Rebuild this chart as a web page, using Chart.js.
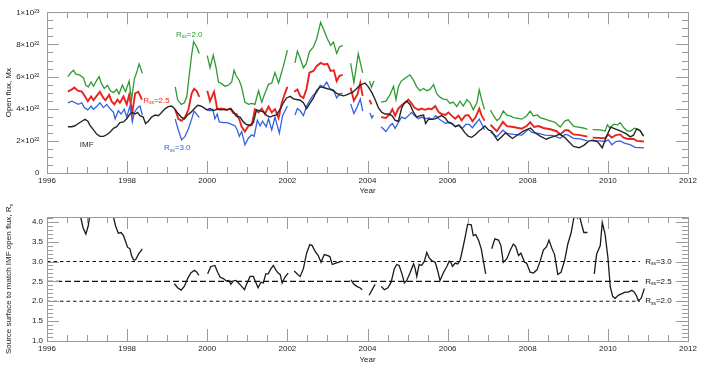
<!DOCTYPE html>
<html>
<head>
<meta charset="utf-8">
<script src="https://cdn.jsdelivr.net/npm/chart.js@4.4.1/dist/chart.umd.min.js"></script>
<style>
  html, body { margin: 0; padding: 0; background: #fff; }
  #wrap { position: relative; width: 708px; height: 368px; }
  canvas { position: absolute; left: 0; }
  #fluxChart { top: 0; }
  #rssChart { top: 200px; }
</style>
</head>
<body>
<div id="wrap">
  <canvas id="fluxChart" width="708" height="200"></canvas>
  <canvas id="rssChart" width="708" height="168"></canvas>
</div>
<script>
// open flux in units of 1e22 Mx, [year, value]; null = data gap
const imfFlux = [
  [1996.52,2.88],[1996.62,2.88],[1996.70,2.94],[1996.78,3.08],[1996.87,3.22],[1996.95,3.34],[1997.02,3.22],
  [1997.07,2.98],[1997.16,2.68],[1997.24,2.42],[1997.32,2.28],[1997.41,2.28],[1997.49,2.38],[1997.57,2.54],
  [1997.66,2.78],[1997.74,2.88],[1997.82,3.14],[1997.91,3.18],[1997.99,3.37],[1998.07,3.67],[1998.13,3.77],
  [1998.20,3.67],[1998.26,3.77],[1998.32,3.57],[1998.40,3.48],[1998.46,3.08],[1998.53,3.22],[1998.61,3.48],
  [1998.70,3.61],[1998.78,3.57],[1998.86,3.77],[1998.95,4.01],[1999.03,4.13],[1999.11,4.17],[1999.18,4.01],
  [1999.26,3.73],[1999.35,3.48],[1999.43,3.37],[1999.51,3.61],[1999.59,3.77],[1999.68,4.01],[1999.76,4.21],
  [1999.84,4.17],[1999.92,4.05],[1999.99,3.93],[2000.07,4.01],[2000.15,3.87],[2000.24,3.97],[2000.34,3.93],
  [2000.42,3.97],[2000.50,3.93],[2000.59,4.01],[2000.65,3.81],[2000.73,3.53],[2000.82,3.48],[2000.90,3.18],
  [2000.98,3.02],[2001.07,2.98],[2001.15,3.14],[2001.23,3.93],[2001.32,3.87],[2001.40,3.81],[2001.49,3.57],
  [2001.57,3.48],[2001.65,3.57],[2001.73,3.61],[2001.82,3.97],[2001.90,4.37],[2001.98,4.67],[2002.07,4.77],
  [2002.15,4.61],[2002.23,4.57],[2002.32,4.53],[2002.40,4.37],[2002.48,4.01],[2002.57,4.37],[2002.65,4.67],
  [2002.73,5.12],[2002.82,5.36],[2002.90,5.32],[2002.98,5.26],[2003.06,5.20],[2003.15,5.12],[2003.23,4.96],
  [2003.31,4.86],[2003.40,4.80],[2003.48,4.86],[2003.56,4.96],[2003.65,5.06],[2003.73,5.26],[2003.81,5.46],
  [2003.90,5.56],[2003.94,5.60],[2004.02,5.36],[2004.11,5.00],[2004.19,4.57],[2004.27,4.07],[2004.36,3.77],
  [2004.44,3.67],[2004.52,3.67],[2004.61,3.57],[2004.69,3.28],[2004.77,3.22],[2004.85,4.01],[2004.92,4.37],
  [2004.98,4.47],[2005.06,4.27],[2005.15,3.77],[2005.23,3.48],[2005.31,3.57],[2005.40,3.61],[2005.45,3.08],
  [2005.52,3.34],[2005.60,3.34],[2005.69,3.37],[2005.77,3.48],[2005.85,3.57],[2005.94,3.42],[2006.02,3.14],
  [2006.10,3.08],[2006.19,2.88],[2006.27,2.98],[2006.35,2.78],[2006.44,2.48],[2006.52,2.28],[2006.60,2.22],
  [2006.69,2.38],[2006.77,2.58],[2006.85,2.74],[2006.93,2.92],[2007.02,2.68],[2007.10,2.60],[2007.18,2.28],
  [2007.25,2.02],[2007.35,2.26],[2007.45,2.50],[2007.52,2.34],[2007.62,2.15],[2007.75,2.38],[2007.90,2.62],
  [2008.07,2.80],[2008.18,2.50],[2008.31,2.30],[2008.46,2.10],[2008.56,2.20],[2008.68,2.30],[2008.80,2.42],
  [2008.92,2.22],[2009.02,1.96],[2009.14,1.65],[2009.28,1.57],[2009.40,1.72],[2009.52,1.98],[2009.62,2.04],
  [2009.74,1.96],[2009.86,1.57],[2009.97,2.30],[2010.07,2.85],[2010.18,2.75],[2010.32,2.60],[2010.45,2.45],
  [2010.56,2.25],[2010.64,2.35],[2010.72,2.75],[2010.80,2.66],[2010.89,2.30]
];

const rss20Flux = [
  [1996.52,6.00],[1996.60,6.25],[1996.66,6.39],[1996.72,6.15],[1996.82,6.09],[1996.91,5.92],[1996.97,5.46],
  [1997.03,5.36],[1997.10,5.66],[1997.16,5.40],[1997.24,5.76],[1997.30,6.00],[1997.36,5.56],[1997.43,5.26],
  [1997.51,5.46],[1997.58,5.12],[1997.66,5.00],[1997.74,5.20],[1997.80,4.92],[1997.88,5.46],[1997.96,5.06],
  [1998.05,5.72],[1998.11,4.57],[1998.18,5.86],[1998.25,6.35],[1998.30,6.79],[1998.38,6.20],[1998.80,null],
  [1999.20,5.36],[1999.26,4.57],[1999.35,4.27],[1999.43,4.37],[1999.49,4.76],[1999.54,5.86],[1999.61,7.34],
  [1999.66,8.18],[1999.74,7.84],[1999.80,7.44],[1999.90,null],
  [2000.00,7.30],[2000.07,6.55],[2000.15,7.34],[2000.22,6.55],[2000.28,5.66],[2000.36,5.56],[2000.44,5.40],
  [2000.53,5.46],[2000.61,5.66],[2000.67,6.39],[2000.72,6.05],[2000.80,5.76],[2000.86,5.32],[2000.94,4.41],
  [2001.03,4.27],[2001.11,4.33],[2001.19,4.27],[2001.28,5.12],[2001.36,4.41],[2001.44,4.96],[2001.53,5.52],
  [2001.61,5.60],[2001.69,6.25],[2001.78,5.60],[2001.90,6.65],[2002.00,7.64],[2002.10,null],
  [2002.19,6.85],[2002.25,7.58],[2002.32,7.14],[2002.40,6.55],[2002.47,6.79],[2002.55,7.54],[2002.65,7.84],
  [2002.73,8.34],[2002.83,9.37],[2002.92,8.83],[2003.00,8.34],[2003.08,7.94],[2003.15,8.14],[2003.23,7.44],
  [2003.30,7.84],[2003.38,7.94],[2003.50,null],
  [2003.58,6.83],[2003.66,5.63],[2003.77,7.42],[2003.88,6.23],[2003.97,null],
  [2004.05,5.73],[2004.10,5.34],[2004.16,5.73],[2004.25,null],
  [2004.34,4.41],[2004.46,4.47],[2004.56,4.86],[2004.65,5.40],[2004.71,4.57],[2004.77,5.36],[2004.84,5.72],
  [2004.92,5.86],[2005.00,6.00],[2005.06,6.11],[2005.15,5.76],[2005.23,5.36],[2005.31,5.12],[2005.40,5.26],
  [2005.48,5.12],[2005.56,5.20],[2005.65,5.50],[2005.73,4.92],[2005.81,4.72],[2005.89,4.60],[2005.98,4.57],
  [2006.06,4.33],[2006.14,4.41],[2006.23,4.13],[2006.31,4.47],[2006.39,4.17],[2006.48,4.57],[2006.56,4.37],
  [2006.64,3.93],[2006.73,4.37],[2006.79,5.17],[2006.85,4.57],[2006.92,3.96],[2007.00,null],
  [2007.07,3.91],[2007.15,3.55],[2007.23,3.26],[2007.30,3.40],[2007.39,3.86],[2007.48,3.60],[2007.56,3.55],
  [2007.64,3.45],[2007.73,3.42],[2007.85,3.35],[2007.97,3.55],[2008.06,3.85],[2008.14,3.55],[2008.24,3.61],
  [2008.31,3.45],[2008.43,3.35],[2008.56,3.25],[2008.68,3.16],[2008.81,2.86],[2008.93,3.25],[2009.01,3.31],
  [2009.14,2.92],[2009.26,2.86],[2009.39,2.80],[2009.49,2.72],[2009.55,null],
  [2009.62,2.70],[2009.80,2.68],[2009.93,2.62],[2009.99,3.00],[2010.05,2.80],[2010.15,3.04],[2010.24,3.00],
  [2010.31,3.13],[2010.39,2.84],[2010.47,2.64],[2010.56,2.59],[2010.66,2.79],[2010.74,2.73],[2010.82,2.58],
  [2010.89,2.30]
];

const rss25Flux = [
  [1996.52,5.06],[1996.62,5.20],[1996.68,5.32],[1996.77,5.12],[1996.87,5.06],[1996.95,4.76],[1997.02,4.47],
  [1997.10,4.76],[1997.16,4.53],[1997.24,4.80],[1997.32,5.06],[1997.41,4.66],[1997.46,4.53],[1997.55,4.86],
  [1997.61,4.47],[1997.68,4.27],[1997.76,4.57],[1997.82,4.37],[1997.91,4.76],[1997.99,4.27],[1998.05,4.86],
  [1998.13,3.77],[1998.20,4.96],[1998.28,5.06],[1998.37,4.56],[1998.80,null],
  [1999.20,3.95],[1999.28,3.35],[1999.36,3.25],[1999.44,3.45],[1999.53,3.95],[1999.61,4.94],[1999.67,5.24],
  [1999.74,5.10],[1999.80,4.74],[1999.90,null],
  [2000.00,5.12],[2000.07,4.47],[2000.17,5.06],[2000.25,3.97],[2000.34,4.01],[2000.42,3.97],[2000.49,3.93],
  [2000.57,4.01],[2000.65,3.73],[2000.73,3.67],[2000.80,3.34],[2000.86,2.88],[2000.94,2.58],[2001.03,2.94],
  [2001.11,2.98],[2001.19,3.97],[2001.28,3.77],[2001.36,4.01],[2001.44,3.67],[2001.53,4.13],[2001.61,3.77],
  [2001.69,3.97],[2001.78,3.42],[2001.86,4.37],[2001.94,4.96],[2002.00,5.36],[2002.10,null],
  [2002.17,5.06],[2002.25,5.20],[2002.32,4.80],[2002.40,4.66],[2002.48,5.26],[2002.55,6.25],[2002.65,6.35],
  [2002.73,6.65],[2002.83,6.85],[2002.92,6.75],[2003.00,6.79],[2003.08,6.35],[2003.16,6.39],[2003.23,5.72],
  [2003.30,6.05],[2003.38,6.11],[2003.50,null],
  [2003.58,5.30],[2003.66,4.50],[2003.75,4.90],[2003.82,5.60],[2003.88,4.80],[2003.97,null],
  [2004.05,4.55],[2004.10,4.27],[2004.25,null],
  [2004.34,3.48],[2004.46,3.42],[2004.56,3.67],[2004.62,3.97],[2004.69,3.57],[2004.77,4.01],[2004.85,4.21],
  [2004.94,4.37],[2005.02,4.57],[2005.09,4.37],[2005.17,4.07],[2005.27,3.93],[2005.35,4.01],[2005.44,3.93],
  [2005.52,4.01],[2005.60,3.97],[2005.69,4.17],[2005.77,3.81],[2005.85,3.67],[2005.94,3.61],[2006.02,3.77],
  [2006.10,3.57],[2006.19,3.38],[2006.27,3.57],[2006.35,3.28],[2006.44,3.57],[2006.52,3.61],[2006.62,3.22],
  [2006.70,3.48],[2006.79,4.00],[2006.85,3.57],[2006.92,3.26],[2007.00,null],
  [2007.07,3.00],[2007.23,2.60],[2007.38,3.19],[2007.48,2.92],[2007.64,2.86],[2007.85,2.76],[2007.97,2.92],
  [2008.06,3.16],[2008.16,2.86],[2008.27,2.92],[2008.39,2.80],[2008.56,2.72],[2008.72,2.60],[2008.81,2.40],
  [2008.93,2.66],[2009.01,2.66],[2009.14,2.40],[2009.31,2.36],[2009.49,2.26],[2009.55,null],
  [2009.62,2.20],[2009.93,2.16],[2010.01,2.40],[2010.10,2.20],[2010.20,2.36],[2010.31,2.40],[2010.39,2.20],
  [2010.51,2.12],[2010.64,2.12],[2010.72,2.00],[2010.90,1.96]
];

const rss30Flux = [
  [1996.52,4.37],[1996.62,4.47],[1996.70,4.37],[1996.78,4.27],[1996.87,4.37],[1996.93,4.07],[1997.02,3.93],
  [1997.10,4.17],[1997.16,3.97],[1997.24,4.13],[1997.32,4.37],[1997.41,4.07],[1997.49,4.27],[1997.57,4.01],
  [1997.66,3.77],[1997.70,3.37],[1997.78,3.87],[1997.85,3.67],[1997.93,3.97],[1997.99,3.48],[1998.07,4.17],
  [1998.13,3.18],[1998.18,3.77],[1998.26,4.07],[1998.32,4.17],[1998.38,3.60],[1998.80,null],
  [1999.20,3.35],[1999.28,2.66],[1999.36,2.06],[1999.44,2.26],[1999.53,2.76],[1999.61,3.35],[1999.67,3.85],
  [1999.74,3.65],[1999.80,3.45],[1999.90,null],
  [2000.00,3.93],[2000.07,3.87],[2000.14,3.97],[2000.19,3.37],[2000.25,3.67],[2000.30,3.18],[2000.40,3.14],
  [2000.50,3.14],[2000.61,3.02],[2000.69,2.94],[2000.75,2.68],[2000.80,2.28],[2000.86,2.58],[2000.94,1.75],
  [2001.03,2.18],[2001.11,2.38],[2001.17,2.28],[2001.25,3.28],[2001.32,2.94],[2001.38,3.22],[2001.47,2.88],
  [2001.53,3.37],[2001.61,2.68],[2001.69,3.48],[2001.80,2.48],[2001.88,3.57],[2002.00,4.17],[2002.10,null],
  [2002.19,3.61],[2002.25,4.01],[2002.32,3.87],[2002.40,3.57],[2002.48,4.17],[2002.57,4.57],[2002.65,4.86],
  [2002.73,5.00],[2002.82,5.46],[2002.90,5.36],[2002.98,5.66],[2003.06,5.26],[2003.15,5.16],[2003.23,4.67],
  [2003.30,4.92],[2003.38,4.96],[2003.50,null],
  [2003.58,4.30],[2003.66,3.70],[2003.74,4.10],[2003.82,4.60],[2003.88,3.85],[2003.97,null],
  [2004.06,3.73],[2004.11,3.42],[2004.15,3.61],[2004.25,null],
  [2004.34,2.88],[2004.46,2.58],[2004.56,2.94],[2004.62,3.08],[2004.69,2.78],[2004.77,3.14],[2004.85,3.48],
  [2004.94,3.38],[2005.02,3.57],[2005.10,3.77],[2005.17,3.57],[2005.27,3.38],[2005.35,3.48],[2005.44,3.38],
  [2005.54,3.42],[2005.62,3.34],[2005.70,3.57],[2005.79,3.34],[2005.87,3.22],[2005.95,3.08],[2006.04,3.18],
  [2006.12,3.08],[2006.20,2.88],[2006.29,2.98],[2006.37,2.78],[2006.45,3.02],[2006.54,3.02],[2006.62,2.82],
  [2006.70,3.08],[2006.79,3.35],[2006.85,3.05],[2006.92,2.70],[2007.00,null],
  [2007.07,2.56],[2007.23,2.26],[2007.38,2.66],[2007.48,2.46],[2007.64,2.40],[2007.85,2.36],[2008.02,2.72],
  [2008.10,2.52],[2008.27,2.46],[2008.43,2.36],[2008.64,2.32],[2008.81,2.16],[2008.93,2.40],[2009.01,2.36],
  [2009.14,2.16],[2009.31,2.12],[2009.49,2.00],[2009.55,null],
  [2009.62,2.00],[2009.80,2.00],[2009.93,1.96],[2010.01,2.06],[2010.10,1.76],[2010.20,1.96],[2010.31,2.00],
  [2010.41,1.86],[2010.55,1.76],[2010.68,1.60],[2010.90,1.56]
];

// source surface radius (R_s) that matches the IMF open flux
const rssMatch = [
  [1996.52,4.70],[1996.70,4.50],[1996.80,4.30],[1996.90,3.85],[1996.97,3.69],[1997.03,3.90],[1997.10,4.40],
  [1997.30,4.80],[1997.50,4.60],[1997.62,4.30],[1997.71,3.90],[1997.78,3.71],[1997.85,3.73],[1997.91,3.65],
  [1997.96,3.51],[1998.01,3.36],[1998.07,3.32],[1998.11,3.15],[1998.16,3.04],[1998.21,3.04],[1998.28,3.18],
  [1998.38,3.32],[1998.80,null],
  [1999.18,2.44],[1999.26,2.34],[1999.35,2.28],[1999.43,2.38],[1999.51,2.57],[1999.59,2.71],[1999.68,2.78],
  [1999.74,2.73],[1999.79,2.65],[1999.90,null],
  [2000.01,2.69],[2000.09,2.875],[2000.19,2.90],[2000.26,2.73],[2000.32,2.61],[2000.40,2.57],[2000.48,2.51],
  [2000.54,2.525],[2000.59,2.425],[2000.65,2.51],[2000.71,2.525],[2000.78,2.46],[2000.86,2.375],[2000.93,2.29],
  [2000.98,2.425],[2001.07,2.625],[2001.15,2.625],[2001.21,2.48],[2001.27,2.34],[2001.34,2.48],[2001.40,2.46],
  [2001.46,2.69],[2001.52,2.69],[2001.59,2.82],[2001.65,2.90],[2001.71,2.79],[2001.77,2.71],[2001.82,2.675],
  [2001.87,2.46],[2001.94,2.61],[2002.02,2.71],[2002.10,null],
  [2002.17,2.76],[2002.26,2.675],[2002.32,2.625],[2002.40,2.82],[2002.48,3.21],[2002.56,3.425],[2002.62,3.40],
  [2002.69,3.26],[2002.77,3.15],[2002.84,2.98],[2002.92,3.175],[2003.01,3.15],[2003.06,3.125],[2003.12,2.925],
  [2003.21,2.96],[2003.27,2.98],[2003.36,3.01],[2003.50,null],
  [2003.59,2.54],[2003.65,2.44],[2003.73,2.375],[2003.81,2.34],[2003.87,2.29],[2003.97,null],
  [2004.04,2.15],[2004.19,2.425],[2004.27,null],
  [2004.34,2.375],[2004.42,2.29],[2004.51,2.34],[2004.59,2.48],[2004.67,2.82],[2004.73,2.925],[2004.79,2.90],
  [2004.86,2.69],[2004.92,2.46],[2004.98,2.525],[2005.06,2.71],[2005.15,2.94],[2005.19,2.82],[2005.23,2.625],
  [2005.29,2.925],[2005.35,2.90],[2005.42,3.01],[2005.48,3.23],[2005.54,3.09],[2005.60,3.025],[2005.69,2.98],
  [2005.75,2.775],[2005.81,2.525],[2005.90,2.73],[2005.98,2.875],[2006.04,3.01],[2006.09,2.96],[2006.12,2.875],
  [2006.19,2.96],[2006.25,2.94],[2006.31,3.025],[2006.37,3.29],[2006.44,3.625],[2006.50,3.94],[2006.59,3.925],
  [2006.64,3.65],[2006.70,3.675],[2006.77,3.54],[2006.84,3.32],[2006.89,3.025],[2006.95,2.69],[2007.03,null],
  [2007.10,3.32],[2007.18,3.57],[2007.27,3.54],[2007.33,3.40],[2007.39,2.98],[2007.48,3.07],[2007.56,3.275],
  [2007.64,3.44],[2007.70,3.375],[2007.77,3.15],[2007.83,3.21],[2007.92,2.98],[2007.97,2.96],[2008.06,2.73],
  [2008.14,2.71],[2008.23,2.79],[2008.31,3.01],[2008.39,3.29],[2008.47,3.375],[2008.53,3.54],[2008.60,3.34],
  [2008.67,3.175],[2008.75,2.675],[2008.83,2.73],[2008.92,3.025],[2009.00,3.44],[2009.08,3.71],[2009.15,4.10],
  [2009.20,4.25],[2009.24,4.10],[2009.28,4.20],[2009.34,3.95],[2009.40,3.73],[2009.49,3.73],[2009.57,null],
  [2009.66,2.69],[2009.72,3.19],[2009.81,3.40],[2009.86,3.98],[2009.93,3.69],[2010.00,3.11],[2010.06,2.36],
  [2010.12,2.125],[2010.18,2.07],[2010.26,2.15],[2010.35,2.19],[2010.43,2.23],[2010.51,2.23],[2010.60,2.275],
  [2010.66,2.23],[2010.72,2.125],[2010.76,2.01],[2010.83,2.07],[2010.91,2.32]
];

// reference source-surface radii (dashed lines) and their span in years
const refRadii = [3.0, 2.5, 2.0];
const refSpan = [1996, 2010.8];
const refLabels = ["=3.0", "=2.5", "=2.0"];

const xTicks = [1996, 1998, 2000, 2002, 2004, 2006, 2008, 2010, 2012];

const fontFamily = "'Liberation Sans', Arial, Helvetica, sans-serif";
const textColor = "#222222";
const frameColor = "#9a9a9a";
const imfColor = "#262626";
const greenColor = "#2f9a32";
const redColor = "#e8241f";
const blueColor = "#3461e0";

const pts = (arr) => arr.map(([x, y]) => ({ x, y }));

function isMajor(v, step) {
  const r = v / step;
  return Math.abs(r - Math.round(r)) < 1e-6;
}

// "R" + small subscript "ss" + rest
function drawSubLabel(ctx, x, y, base, sub, rest, color, size) {
  ctx.save();
  ctx.fillStyle = color;
  ctx.textBaseline = "middle";
  ctx.textAlign = "left";
  ctx.font = size + "px " + fontFamily;
  ctx.fillText(base, x, y);
  x += ctx.measureText(base).width;
  if (sub) {
    ctx.font = Math.round(size * 0.65) + "px " + fontFamily;
    ctx.fillText(sub, x, y + size * 0.3);
    x += ctx.measureText(sub).width;
  }
  if (rest) {
    ctx.font = size + "px " + fontFamily;
    ctx.fillText(rest, x, y);
  }
  ctx.restore();
}

const frameTicks = {
  id: "frameTicks",
  afterDraw(chart, args, opts) {
    const { ctx, chartArea: a, scales } = chart;
    const xs = scales.x;
    const ys = scales.y;
    ctx.save();
    ctx.strokeStyle = frameColor;
    ctx.lineWidth = 1;
    ctx.strokeRect(Math.round(a.left) + 0.5, Math.round(a.top) + 0.5,
      Math.round(a.right - a.left), Math.round(a.bottom - a.top));
    ctx.beginPath();
    const nx = Math.round((xs.max - xs.min) / opts.xMinor);
    for (let i = 1; i < nx; i++) {
      const t = xs.min + i * opts.xMinor;
      const px = Math.round(xs.getPixelForValue(t)) + 0.5;
      const len = isMajor(t, opts.xMajor) ? 12 : 6;
      ctx.moveTo(px, a.bottom);
      ctx.lineTo(px, a.bottom - len);
      ctx.moveTo(px, a.top);
      ctx.lineTo(px, a.top + len);
    }
    const ny = Math.floor((ys.max - ys.min) / opts.yMinor + 1e-6);
    for (let i = 1; i <= ny; i++) {
      const v = ys.min + i * opts.yMinor;
      const py = Math.round(ys.getPixelForValue(v)) + 0.5;
      if (py <= a.top + 1) continue;
      const len = isMajor(v - opts.yBase, opts.yMajor) ? 12 : 6;
      ctx.moveTo(a.left, py);
      ctx.lineTo(a.left + len, py);
      ctx.moveTo(a.right, py);
      ctx.lineTo(a.right - len, py);
    }
    ctx.stroke();
    ctx.restore();

    (opts.labels || []).forEach((l) => {
      drawSubLabel(ctx, xs.getPixelForValue(l.x), ys.getPixelForValue(l.y),
        l.base, l.sub, l.rest, l.color, 8);
    });

    if (opts.yTitle) {
      ctx.save();
      ctx.translate(9, (a.top + a.bottom) / 2);
      ctx.rotate(-Math.PI / 2);
      ctx.textAlign = "center";
      ctx.textBaseline = "middle";
      ctx.fillStyle = textColor;
      ctx.font = "8px " + fontFamily;
      const main = opts.yTitle;
      const w = ctx.measureText(main).width;
      ctx.font = "5px " + fontFamily;
      const ws = ctx.measureText(opts.yTitleSub).width;
      const x0 = -(w + ws) / 2;
      ctx.textAlign = "left";
      ctx.font = "8px " + fontFamily;
      ctx.fillText(main, x0, 0);
      ctx.font = "5px " + fontFamily;
      ctx.fillText(opts.yTitleSub, x0 + w, 2.5);
      ctx.restore();
    }
  },
};

const tickFont = { size: 8, family: fontFamily };

const fluxChart = new Chart(document.getElementById("fluxChart"), {
  type: "line",
  data: {
    datasets: [
      { label: "IMF", data: pts(imfFlux), borderColor: imfColor, borderWidth: 1.4 },
      { label: "Rss=3.0", data: pts(rss30Flux), borderColor: blueColor, borderWidth: 1.3 },
      { label: "Rss=2.5", data: pts(rss25Flux), borderColor: redColor, borderWidth: 1.9 },
      { label: "Rss=2.0", data: pts(rss20Flux), borderColor: greenColor, borderWidth: 1.3 },
    ],
  },
  options: {
    responsive: false,
    animation: false,
    spanGaps: false,
    layout: { padding: { top: 5, right: 20, left: 0, bottom: 0 } },
    elements: { point: { radius: 0 }, line: { tension: 0 } },
    plugins: {
      legend: { display: false },
      tooltip: { enabled: false },
      frameTicks: {
        xMinor: 0.5, xMajor: 2, yMinor: 0.5, yMajor: 2, yBase: 0,
        labels: [
          { x: 1999.22, y: 8.63, base: "R", sub: "ss", rest: "=2.0", color: greenColor },
          { x: 1998.40, y: 4.52, base: "R", sub: "ss", rest: "=2.5", color: redColor },
          { x: 1998.92, y: 1.55, base: "R", sub: "ss", rest: "=3.0", color: blueColor },
          { x: 1996.82, y: 1.73, base: "IMF", sub: "", rest: "", color: imfColor },
        ],
      },
    },
    scales: {
      x: {
        type: "linear",
        min: 1996,
        max: 2012,
        afterFit: (s) => { s.height = 27; },
        grid: { display: false, drawTicks: false },
        border: { display: false },
        afterBuildTicks: (s) => { s.ticks = xTicks.map((v) => ({ value: v })); },
        ticks: {
          padding: 2.7, color: textColor, font: tickFont, maxRotation: 0, autoSkip: false,
          callback: (v) => String(v),
        },
        title: {
          display: true, text: "Year", color: textColor, font: tickFont,
          padding: { top: 0, bottom: 4 },
        },
      },
      y: {
        min: 0,
        max: 10,
        afterFit: (s) => { s.width = 47; },
        grid: { display: false, drawTicks: false },
        border: { display: false },
        ticks: {
          stepSize: 2, padding: 7.5, color: textColor, font: tickFont,
          callback: (v) => (v === 0 ? "0" : v === 10 ? "1×10²³" : v + "×10²²"),
        },
        title: {
          display: true, text: "Open flux, Mx", color: textColor, font: tickFont,
          padding: { top: 4, bottom: 0 },
        },
      },
    },
  },
  plugins: [frameTicks],
});

const refDatasets = refRadii.map((r, i) => ({
  label: "Rss" + refLabels[i],
  data: refSpan.map((x) => ({ x, y: r })),
  borderColor: "#111111",
  borderWidth: 1.1,
  borderDash: r === 2.5 ? [6, 3] : [3.5, 3],
}));

const rssChart = new Chart(document.getElementById("rssChart"), {
  type: "line",
  data: {
    datasets: [
      { label: "Rs match", data: pts(rssMatch), borderColor: "#1a1a1a", borderWidth: 1.3 },
      ...refDatasets,
    ],
  },
  options: {
    responsive: false,
    animation: false,
    spanGaps: false,
    layout: { padding: { top: 17, right: 20, left: 0, bottom: 0 } },
    elements: { point: { radius: 0 }, line: { tension: 0 } },
    plugins: {
      legend: { display: false },
      tooltip: { enabled: false },
      frameTicks: {
        xMinor: 0.5, xMajor: 2, yMinor: 0.1, yMajor: 0.5, yBase: 1,
        labels: refRadii.map((r, i) => ({
          x: 2010.93, y: r, base: "R", sub: "ss", rest: refLabels[i], color: "#111111",
        })),
        yTitle: "Source surface to match IMF open flux, R",
        yTitleSub: "s",
      },
    },
    scales: {
      x: {
        type: "linear",
        min: 1996,
        max: 2012,
        afterFit: (s) => { s.height = 27; },
        grid: { display: false, drawTicks: false },
        border: { display: false },
        afterBuildTicks: (s) => { s.ticks = xTicks.map((v) => ({ value: v })); },
        ticks: {
          padding: 3.2, color: textColor, font: tickFont, maxRotation: 0, autoSkip: false,
          callback: (v) => String(v),
        },
        title: {
          display: true, text: "Year", color: textColor, font: tickFont,
          padding: { top: 0, bottom: 3.2 },
        },
      },
      y: {
        min: 1,
        max: 4.12,
        afterFit: (s) => { s.width = 47; },
        grid: { display: false, drawTicks: false },
        border: { display: false },
        ticks: {
          stepSize: 0.5, includeBounds: false, padding: 4, color: textColor, font: tickFont,
          callback: (v) => v.toFixed(1),
        },
      },
    },
  },
  plugins: [frameTicks],
});
</script>
</body>
</html>
